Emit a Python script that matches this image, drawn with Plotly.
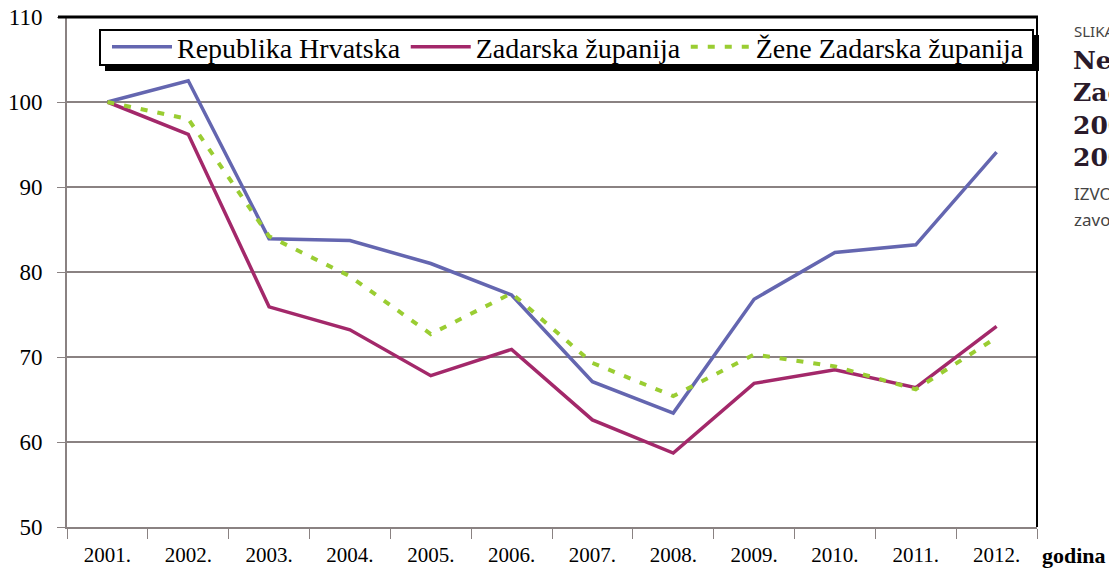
import plotly.graph_objects as go

years = ["2001.", "2002.", "2003.", "2004.", "2005.", "2006.", "2007.", "2008.", "2009.", "2010.", "2011.", "2012."]
rh = [100, 102.5, 83.9, 83.7, 81.0, 77.3, 67.1, 63.4, 76.8, 82.3, 83.2, 94.1]
zz = [100, 96.2, 75.9, 73.2, 67.8, 70.9, 62.6, 58.7, 66.9, 68.5, 66.4, 73.6]
zene = [100, 98.0, 84.2, 79.5, 72.7, 77.5, 69.3, 65.4, 70.3, 68.9, 66.2, 72.3]
y_ticks = [50, 60, 70, 80, 90, 100, 110]

W, H = 1109, 578
L, R, T, B = 67, 1037, 17, 527

def px(x):
    return (x - L) / (R - L)

def py(y):
    return (B - y) / (B - T)

SERIF = "Liberation Serif, Times New Roman, serif"

fig = go.Figure()
fig.add_trace(go.Scatter(x=years, y=rh, mode="lines", name="Republika Hrvatska",
                         line=dict(color="#6466b0", width=3.5)))
fig.add_trace(go.Scatter(x=years, y=zz, mode="lines", name="Zadarska županija",
                         line=dict(color="#a3286a", width=3.5)))
fig.add_trace(go.Scatter(x=years, y=zene, mode="lines", name="Žene Zadarska županija",
                         line=dict(color="#9acd32", width=4, dash="7px,10px")))

shapes = [
    # legend shadow
    dict(type="rect", xref="paper", yref="paper", x0=px(105), x1=px(1039), y0=py(71), y1=py(35),
         fillcolor="black", line=dict(width=0), layer="above"),
    # legend box
    dict(type="rect", xref="paper", yref="paper", x0=px(100), x1=px(1033), y0=py(65), y1=py(30),
         fillcolor="white", line=dict(color="black", width=2), layer="above"),
    # top border
    dict(type="line", xref="paper", yref="paper", x0=px(58), x1=px(1038), y0=1, y1=1,
         line=dict(color="black", width=3)),
    # right border
    dict(type="line", xref="paper", yref="paper", x0=1, x1=1, y0=0, y1=1,
         line=dict(color="black", width=2)),
]

annotations = [
    dict(text="godina", xref="paper", yref="paper", x=px(1040), y=py(555), xanchor="left", yanchor="middle",
         showarrow=False, font=dict(family=SERIF, size=22, color="black", weight="bold")),
    dict(text="SLIKA", xref="paper", yref="paper", x=px(1072), y=py(31), xanchor="left", yanchor="middle",
         showarrow=False, font=dict(family="Noto Sans", size=15, color="#444444")),
]
for i, t in enumerate(["Nezaposleni", "Zadarska", "2001.", "2009."]):
    annotations.append(dict(text=t, xref="paper", yref="paper", x=px(1071), y=py(60 + i * 32.5),
                            xanchor="left", yanchor="middle", showarrow=False,
                            font=dict(family="DejaVu Serif", size=25, color="#2a1a2a", weight="bold")))
for i, t in enumerate(["IZVOR", "zavod"]):
    annotations.append(dict(text=t, xref="paper", yref="paper", x=px(1072), y=py(193 + i * 26),
                            xanchor="left", yanchor="middle", showarrow=False,
                            font=dict(family="Noto Sans", size=17, color="#444444")))

fig.update_layout(
    width=W, height=H,
    margin=dict(l=L, r=W - R, t=T, b=H - B, pad=0, autoexpand=False),
    paper_bgcolor="white", plot_bgcolor="white",
    font=dict(family=SERIF),
    showlegend=True,
    legend=dict(orientation="h", x=px(107), y=py(47), xanchor="left", yanchor="middle",
                bgcolor="rgba(0,0,0,0)", borderwidth=0,
                font=dict(family=SERIF, size=28, color="black"),
                itemwidth=60, tracegroupgap=0, itemclick=False),
    shapes=shapes,
    annotations=annotations,
    xaxis=dict(type="category", range=[-0.5, 11.5], showgrid=False, showline=True,
               linecolor="#8a8282", linewidth=2, ticks="outside", tickson="boundaries",
               ticklen=10, tickcolor="#8a8282", tickwidth=1, automargin=False,
               ticklabelstandoff=8,
               tickfont=dict(family=SERIF, size=21, color="black"), zeroline=False),
    yaxis=dict(range=[50, 110], tickvals=y_ticks, showgrid=True, gridcolor="#8a8282", gridwidth=1.8,
               showline=True, linecolor="#8a8282", linewidth=2, ticks="outside", ticklen=8,
               tickcolor="#8a8282", tickfont=dict(family=SERIF, size=23, color="black"),
               ticklabelstandoff=10, zeroline=False, automargin=False),
)

fig.write_html("out.html", config={"displayModeBar": False})
with open("out.html", "r", encoding="utf-8") as f:
    html = f.read()
html = html.replace("<head>", "<head><style>html,body{margin:0;padding:0;}</style>", 1)
with open("out.html", "w", encoding="utf-8") as f:
    f.write(html)
